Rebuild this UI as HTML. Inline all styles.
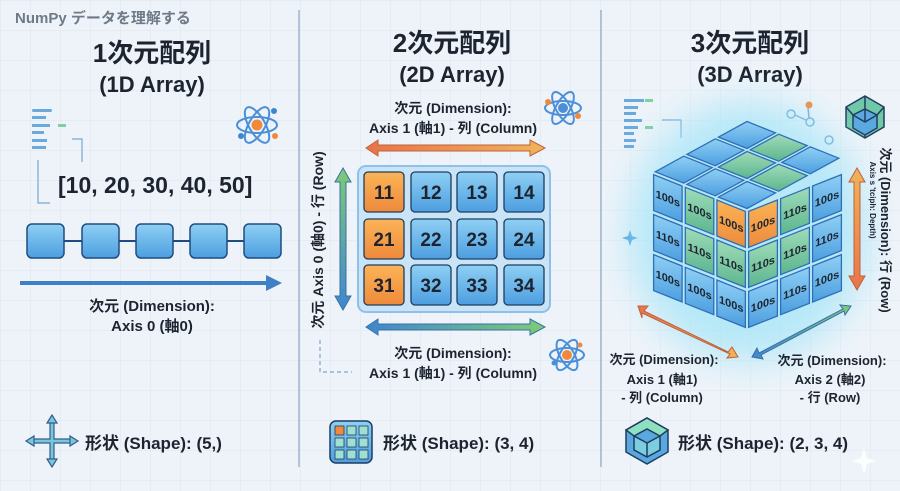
<!DOCTYPE html>
<html><head><meta charset="utf-8"><style>
html,body{margin:0;padding:0;}
body{width:900px;height:491px;overflow:hidden;background:#eef3f9;}
svg{display:block;font-family:"Liberation Sans","Noto Sans CJK JP",sans-serif;}
</style></head><body>
<svg id="s" width="900" height="491" viewBox="0 0 900 491" xmlns="http://www.w3.org/2000/svg">
<defs>
<pattern id="grid" width="30" height="30" patternUnits="userSpaceOnUse"><path d="M30 0H0V30" fill="none" stroke="#dde6f0" stroke-width="1"/></pattern>
<linearGradient id="bl" x1="0" y1="0" x2="0" y2="1"><stop offset="0" stop-color="#8fd0f4"/><stop offset="1" stop-color="#4c9ee0"/></linearGradient>
<linearGradient id="or" x1="0" y1="0" x2="0" y2="1"><stop offset="0" stop-color="#fbb458"/><stop offset="1" stop-color="#ee8a3a"/></linearGradient>
<linearGradient id="gr" x1="0" y1="0" x2="0" y2="1"><stop offset="0" stop-color="#9fdcb8"/><stop offset="1" stop-color="#5cb58f"/></linearGradient>
<linearGradient id="aOB" x1="0" y1="0" x2="1" y2="0"><stop offset="0" stop-color="#e8744a"/><stop offset="1" stop-color="#f0b45a"/></linearGradient>
<linearGradient id="aBG" x1="0" y1="0" x2="1" y2="0"><stop offset="0" stop-color="#3f86cf"/><stop offset="1" stop-color="#7dcc74"/></linearGradient>
<linearGradient id="aV" x1="0" y1="0" x2="0" y2="1"><stop offset="0" stop-color="#7dcc74"/><stop offset="1" stop-color="#3f86cf"/></linearGradient>
<linearGradient id="aV3" x1="0" y1="0" x2="0" y2="1"><stop offset="0" stop-color="#f0b45a"/><stop offset="1" stop-color="#e8744a"/></linearGradient>
<filter id="blur"><feGaussianBlur stdDeviation="18"/></filter>
</defs>
<rect width="900" height="491" fill="#eef3f9"/>
<rect width="900" height="491" fill="url(#grid)"/>
<line x1="299" y1="10" x2="299" y2="467" stroke="#9db4cc" stroke-width="1.5"/>
<line x1="601" y1="10" x2="601" y2="467" stroke="#9db4cc" stroke-width="1.5"/>

<text x="15" y="23" font-size="15" font-weight="bold" fill="#6f7a88">NumPy データを理解する</text>

<!-- Panel 1 -->
<text x="152" y="62" font-size="26" font-weight="bold" fill="#1d2430" text-anchor="middle">1次元配列</text>
<text x="152" y="92" font-size="22" font-weight="bold" fill="#1d2430" text-anchor="middle">(1D Array)</text>
<g fill="#6aa9dc">
<rect x="32" y="109" width="20" height="3" rx="1.5"/><rect x="32" y="116" width="14" height="3"/><rect x="32" y="124" width="18" height="3"/><rect x="32" y="131" width="12" height="3"/><rect x="32" y="139" width="15" height="3"/><rect x="32" y="146" width="14" height="3"/></g>
<rect x="58" y="124" width="8" height="3" fill="#7fd0a0"/>
<path d="M38 160V203H50" fill="none" stroke="#7aa6cf" stroke-width="1.2"/>
<path d="M72 139H82V162" fill="none" stroke="#7aa6cf" stroke-width="1.2"/>
<text x="58" y="193" font-size="23" font-weight="bold" fill="#1d2430">[10, 20, 30, 40, 50]</text>
<g transform="translate(257,125)">
<ellipse rx="20" ry="8" fill="none" stroke="#4a8fd8" stroke-width="2"/>
<ellipse rx="20" ry="8" fill="none" stroke="#4a8fd8" stroke-width="2" transform="rotate(60)"/>
<ellipse rx="20" ry="8" fill="none" stroke="#4a8fd8" stroke-width="2" transform="rotate(-60)"/>
<circle r="5.5" fill="#f08a3a"/><circle cx="17" cy="-14" r="3" fill="#3f86cf"/><circle cx="18" cy="11" r="3" fill="#f08a3a"/><circle cx="-16" cy="11" r="3" fill="#3f86cf"/></g>
<line x1="40" y1="241" x2="270" y2="241" stroke="#1f4c80" stroke-width="2"/>
<g fill="url(#bl)" stroke="#1f4c80" stroke-width="1.5">
<rect x="27" y="224" width="37" height="34" rx="5"/><rect x="82" y="224" width="37" height="34" rx="5"/><rect x="136" y="224" width="37" height="34" rx="5"/><rect x="190" y="224" width="37" height="34" rx="5"/><rect x="244" y="224" width="37" height="34" rx="5"/></g>
<line x1="20" y1="283" x2="268" y2="283" stroke="#3f7fc6" stroke-width="4"/>
<path d="M282 283L266 275V291Z" fill="#3f7fc6"/>
<text x="152" y="311" font-size="15" font-weight="bold" fill="#1d2430" text-anchor="middle">次元 (Dimension):</text>
<text x="152" y="331" font-size="15" font-weight="bold" fill="#1d2430" text-anchor="middle">Axis 0 (軸0)</text>
<g transform="translate(52,441)" fill="#7cc6d8" stroke="#2f5f8f" stroke-width="1.2">
<path d="M-2 -20H2V-2H20V2H2V20H-2V2H-20V-2H-2Z"/>
<path d="M0 -26L-5 -18H5Z"/><path d="M0 26L-5 18H5Z"/><path d="M-26 0L-18 -5V5Z"/><path d="M26 0L18 -5V5Z"/></g>
<text x="85" y="449" font-size="17" font-weight="bold" fill="#1d2430">形状 (Shape): (5,)</text>

<!-- Panel 2 -->
<text x="452" y="52" font-size="26" font-weight="bold" fill="#1d2430" text-anchor="middle">2次元配列</text>
<text x="452" y="82" font-size="22" font-weight="bold" fill="#1d2430" text-anchor="middle">(2D Array)</text>
<text x="453" y="113" font-size="14" font-weight="bold" fill="#1d2430" text-anchor="middle">次元 (Dimension):</text>
<text x="453" y="133" font-size="14" font-weight="bold" fill="#1d2430" text-anchor="middle">Axis 1 (軸1) - 列 (Column)</text>
<g transform="translate(563,108)">
<ellipse rx="18" ry="7" fill="none" stroke="#4a8fd8" stroke-width="2"/>
<ellipse rx="18" ry="7" fill="none" stroke="#4a8fd8" stroke-width="2" transform="rotate(60)"/>
<ellipse rx="18" ry="7" fill="none" stroke="#4a8fd8" stroke-width="2" transform="rotate(-60)"/>
<circle r="5" fill="#4a8fd8"/><circle cx="-15" cy="-6" r="3" fill="#f08a3a"/><circle cx="15" cy="8" r="3" fill="#f08a3a"/></g>
<g transform="translate(567,355)">
<ellipse rx="17" ry="7" fill="none" stroke="#4a8fd8" stroke-width="2"/>
<ellipse rx="17" ry="7" fill="none" stroke="#4a8fd8" stroke-width="2" transform="rotate(60)"/>
<ellipse rx="17" ry="7" fill="none" stroke="#4a8fd8" stroke-width="2" transform="rotate(-60)"/>
<circle r="5" fill="#f08a3a"/><circle cx="13" cy="-10" r="2.5" fill="#f08a3a"/><circle cx="-13" cy="8" r="2.5" fill="#4a8fd8"/></g>
<path d="M366 148L378 140V145H530V140L545 148L530 156V151H378V156Z" fill="url(#aOB)" stroke="#c0603a" stroke-width="1"/>
<path d="M366 327L378 319V324H530V319L545 327L530 335V330H378V335Z" fill="url(#aBG)" stroke="#3a6fa8" stroke-width="1"/>
<path d="M343 168L351 182H346V296H351L343 310L335 296H340V182H335Z" fill="url(#aV)" stroke="#3a6fa8" stroke-width="1"/>
<text transform="translate(323,240) rotate(-90)" font-size="14" font-weight="bold" fill="#1d2430" text-anchor="middle">次元 Axis 0 (軸0) - 行 (Row)</text>
<rect x="358" y="166" width="192" height="146" rx="8" fill="#c9e3f7" stroke="#8fc0ea" stroke-width="2"/>
<g stroke="#1f3d60" stroke-width="1.3" font-size="19" font-weight="bold" fill="#1d2430" text-anchor="middle">
<rect x="364" y="172" width="40" height="40" rx="4" fill="url(#or)"/><rect x="411" y="172" width="40" height="40" rx="4" fill="url(#bl)"/><rect x="457" y="172" width="40" height="40" rx="4" fill="url(#bl)"/><rect x="504" y="172" width="40" height="40" rx="4" fill="url(#bl)"/>
<rect x="364" y="219" width="40" height="40" rx="4" fill="url(#or)"/><rect x="411" y="219" width="40" height="40" rx="4" fill="url(#bl)"/><rect x="457" y="219" width="40" height="40" rx="4" fill="url(#bl)"/><rect x="504" y="219" width="40" height="40" rx="4" fill="url(#bl)"/>
<rect x="364" y="265" width="40" height="40" rx="4" fill="url(#or)"/><rect x="411" y="265" width="40" height="40" rx="4" fill="url(#bl)"/><rect x="457" y="265" width="40" height="40" rx="4" fill="url(#bl)"/><rect x="504" y="265" width="40" height="40" rx="4" fill="url(#bl)"/>
</g>
<g font-size="19" font-weight="bold" fill="#1d2430" text-anchor="middle">
<text x="384" y="199">11</text><text x="431" y="199">12</text><text x="477" y="199">13</text><text x="524" y="199">14</text>
<text x="384" y="246">21</text><text x="431" y="246">22</text><text x="477" y="246">23</text><text x="524" y="246">24</text>
<text x="384" y="292">31</text><text x="431" y="292">32</text><text x="477" y="292">33</text><text x="524" y="292">34</text></g>
<text x="453" y="358" font-size="14" font-weight="bold" fill="#1d2430" text-anchor="middle">次元 (Dimension):</text>
<text x="453" y="378" font-size="14" font-weight="bold" fill="#1d2430" text-anchor="middle">Axis 1 (軸1) - 列 (Column)</text>
<path d="M320 340V372H352" fill="none" stroke="#7aa6cf" stroke-width="1.2" stroke-dasharray="4 3"/>
<rect x="330" y="421" width="42" height="42" rx="6" fill="url(#bl)" stroke="#1f3d60" stroke-width="1.5"/>
<g fill="#9fe0d0" stroke="#1f3d60" stroke-width="0.8">
<rect x="335" y="426" width="9" height="9" fill="#f08a3a"/><rect x="347" y="426" width="9" height="9"/><rect x="359" y="426" width="9" height="9"/>
<rect x="335" y="438" width="9" height="9"/><rect x="347" y="438" width="9" height="9"/><rect x="359" y="438" width="9" height="9"/>
<rect x="335" y="450" width="9" height="9"/><rect x="347" y="450" width="9" height="9"/><rect x="359" y="450" width="9" height="9"/></g>
<text x="383" y="449" font-size="17" font-weight="bold" fill="#1d2430">形状 (Shape): (3, 4)</text>

<!-- Panel 3 -->
<text x="750" y="52" font-size="26" font-weight="bold" fill="#1d2430" text-anchor="middle">3次元配列</text>
<text x="750" y="82" font-size="22" font-weight="bold" fill="#1d2430" text-anchor="middle">(3D Array)</text>
<g fill="#6aa9dc"><rect x="624" y="99" width="20" height="3"/><rect x="624" y="106" width="14" height="3"/><rect x="624" y="112" width="12" height="3"/><rect x="624" y="119" width="18" height="3"/><rect x="624" y="126" width="14" height="3"/><rect x="624" y="132" width="10" height="3"/><rect x="624" y="139" width="12" height="3"/><rect x="624" y="145" width="10" height="3"/></g>
<rect x="645" y="99" width="8" height="3" fill="#7fd0a0"/><rect x="645" y="126" width="8" height="3" fill="#7fd0a0"/>
<path d="M662 120H681V138" fill="none" stroke="#7aa6cf" stroke-width="1.2"/>
<g fill="none" stroke="#6aa9dc" stroke-width="1.5"><circle cx="791" cy="114" r="4"/><circle cx="810" cy="122" r="4"/><line x1="795" y1="115" x2="806" y2="120"/><line x1="808" y1="108" x2="809" y2="118"/></g>
<circle cx="809" cy="105" r="3.5" fill="#f08a3a"/>
<circle cx="829" cy="140" r="4" fill="none" stroke="#6aa9dc" stroke-width="1.5"/>
<g transform="translate(865,117)" stroke="#1f3d60" stroke-width="1.5">
<path d="M0 -21L19 -10V10L0 21L-19 10V-10Z" fill="#6fc8a8"/>
<path d="M0 -8L12 -2V11L0 18L-12 11V-2Z" fill="#5aa8e0"/>
<path d="M0 -21V-8M19 -10L12 -2M-19 -10L-12 -2M0 21V18M0 -8V5M-12 -2L0 5L12 -2" fill="none"/></g>
<path d="M628 236L630 230L632 236L638 238L632 240L630 246L628 240L622 238Z" fill="#4a9ee0"/>
<ellipse cx="748" cy="232" rx="120" ry="130" fill="#9fe4f8" opacity="0.7" filter="url(#blur)"/>
<g id="cube"></g>
<path d="M857 168L865 182H860V276H865L857 290L849 276H854V182H849Z" fill="url(#aV3)" stroke="#c0603a" stroke-width="1"/>
<text transform="translate(881,230) rotate(90)" font-size="13" font-weight="bold" fill="#1d2430" text-anchor="middle">次元 (Dimension): 行 (Row)</text>
<text transform="translate(870,200) rotate(90)" font-size="8" font-weight="bold" fill="#1d2430" text-anchor="middle">Axis s 'tciph: Depth)</text>
<path d="M638 306L648 306L644 311L728 352L732 347L738 357L727 358L730 354L642 313L642 318Z" fill="url(#aOB)" stroke="#c0603a" stroke-width="1"/>
<path d="M752 357L757 348L759 353L843 309L840 305L851 306L845 315L844 311L761 355L763 359Z" fill="url(#aBG)" stroke="#3a6fa8" stroke-width="1"/>
<g font-size="13" font-weight="bold" fill="#1d2430" text-anchor="middle">
<text x="664" y="364">次元 (Dimension):</text><text x="662" y="384">Axis 1 (軸1)</text><text x="662" y="402">- 列 (Column)</text>
<text x="832" y="365">次元 (Dimension):</text><text x="830" y="384">Axis 2 (軸2)</text><text x="830" y="402">- 行 (Row)</text></g>
<g transform="translate(647,441)" stroke="#1f3d60" stroke-width="1.5">
<path d="M0 -23L21 -11V11L0 23L-21 11V-11Z" fill="#5aa8e0"/>
<path d="M0 -23L21 -11L13 -5L0 -12L-13 -5L-21 -11Z" fill="#8ee0c0"/>
<path d="M-13 -5L0 2L13 -5V9L0 16L-13 9Z" fill="#7ccde0"/>
<path d="M0 2V16" fill="none"/></g>
<text x="678" y="449" font-size="17" font-weight="bold" fill="#1d2430">形状 (Shape): (2, 3, 4)</text>
<path d="M864 448L867 458L876 461L867 464L864 474L861 464L852 461L861 458Z" fill="#ffffff" opacity="0.8"/>
</svg>
<script>
(function(){
var g=document.getElementById('cube');var NS='http://www.w3.org/2000/svg';
var F={b:'url(#bl)',g:'url(#gr)',o:'url(#or)'};
function face(O,u,v,cols,labels,sk){
 for(var j=0;j<3;j++)for(var i=0;i<3;i++){
  var a=0.05,b=0.95;
  function P(s,t){return [O[0]+u[0]*(i+s)/3+v[0]*(j+t)/3,O[1]+u[1]*(i+s)/3+v[1]*(j+t)/3];}
  var p=[P(a,a),P(b,a),P(b,b),P(a,b)];
  var e=document.createElementNS(NS,'polygon');
  e.setAttribute('points',p.map(function(q){return q[0].toFixed(1)+','+q[1].toFixed(1)}).join(' '));
  e.setAttribute('fill',F[cols[j][i]]);e.setAttribute('stroke','#2f6fb8');e.setAttribute('stroke-width','1.3');
  g.appendChild(e);
  if(labels){var c=P(0.5,0.5);var t=document.createElementNS(NS,'text');
   t.setAttribute('transform','translate('+c[0].toFixed(1)+','+(c[1]+4).toFixed(1)+') skewY('+sk+')');
   t.setAttribute('font-size','11');t.setAttribute('font-weight','bold');t.setAttribute('fill','#1d2430');t.setAttribute('text-anchor','middle');
   t.textContent=labels[j][i];g.appendChild(t);}
 }
}
face([652,172],[95,-52],[95,38],[['b','b','b'],['b','g','g'],['b','g','b']],null,0);
face([652,172],[95,38],[0,120],[['b','g','o'],['b','g','g'],['b','b','b']],[['100s','100s','100s'],['110s','110s','110s'],['100s','100s','100s']],21.8);
face([747,210],[96,-38],[0,120],[['o','g','b'],['g','g','b'],['b','b','b']],[['100s','110s','100s'],['110s','110s','110s'],['100s','110s','100s']],-21.6);
})();
</script>
</body></html>
